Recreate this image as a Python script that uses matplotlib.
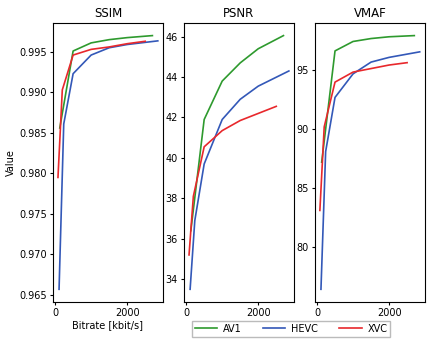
import matplotlib.pyplot as plt

# bitrates per codec (kbit/s)
av1_rate = [130, 500, 1000, 1500, 2000, 2700]
hevc_rate = [110, 240, 500, 1000, 1500, 2000, 2850]
xvc_rate = [80, 200, 500, 1000, 1500, 2000, 2500]

av1_ssim = [0.9856, 0.9951, 0.9961, 0.9965, 0.99675, 0.9970]
hevc_ssim = [0.9657, 0.9861, 0.9923, 0.9946, 0.9955, 0.9959, 0.99635]
xvc_ssim = [0.9795, 0.9903, 0.9946, 0.9953, 0.9956, 0.9960, 0.9963]

av1_psnr = [36.4, 41.9, 43.8, 44.7, 45.4, 46.05]
hevc_psnr = [33.5, 36.9, 39.7, 41.9, 42.9, 43.55, 44.3]
xvc_psnr = [35.2, 38.1, 40.55, 41.35, 41.85, 42.2, 42.55]

av1_vmaf = [87.2, 96.65, 97.45, 97.7, 97.85, 97.95]
hevc_vmaf = [76.4, 88.1, 92.7, 94.7, 95.7, 96.1, 96.57]
xvc_vmaf = [83.1, 90.2, 94.0, 94.85, 95.15, 95.45, 95.65]

codecs = ['AV1', 'HEVC', 'XVC']
colors = ['#2e9a2e', '#3358b8', '#e8282c']
rates = [av1_rate, hevc_rate, xvc_rate]
metrics = {
    'SSIM': [av1_ssim, hevc_ssim, xvc_ssim],
    'PSNR': [av1_psnr, hevc_psnr, xvc_psnr],
    'VMAF': [av1_vmaf, hevc_vmaf, xvc_vmaf],
}

fig = plt.figure(figsize=(4.29, 3.42), dpi=100)
lefts = [0.1235, 0.429, 0.734]
w = 0.256
bottom = 0.117
h = 0.816

for i, (name, vals) in enumerate(metrics.items()):
    ax = fig.add_axes([lefts[i], bottom, w, h])
    for rate, v, c, lab in zip(rates, vals, colors, codecs):
        ax.plot(rate, v, color=c, lw=1.2, label=lab)
    ax.set_title(name, fontsize=8.5, pad=4)
    ax.set_xticks([0, 2000])
    ax.tick_params(labelsize=7, length=2.5, pad=2)
    for s in ax.spines.values():
        s.set_linewidth(0.8)
    if name == 'SSIM':
        ax.set_ylabel('Value', fontsize=7, labelpad=2)
        ax.set_xlabel('Bitrate [kbit/s]', fontsize=7, labelpad=1)
        handles, labels = ax.get_legend_handles_labels()
    if name == 'VMAF':
        ax.set_yticks([80, 85, 90, 95])

fig.legend(handles, labels, loc='upper center', bbox_to_anchor=(291 / 429, 1 - 316 / 342),
           ncol=3, fontsize=7, handlelength=2.3, columnspacing=2.2, borderpad=0.3,
           handletextpad=0.6, fancybox=False, edgecolor='#bbbbbb', framealpha=1)

fig.savefig('out.png', dpi=100)
